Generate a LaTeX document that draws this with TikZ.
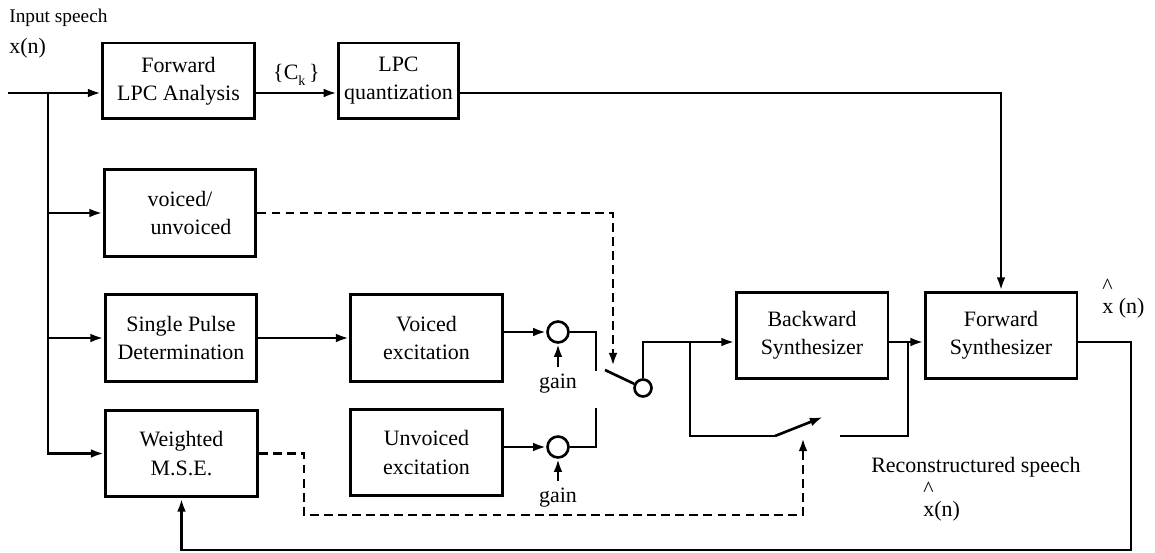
\documentclass[tikz,border=0pt]{standalone}
\usepackage{fontspec}
\setmainfont{Liberation Serif}
\usetikzlibrary{arrows.meta}
\tikzset{
  block/.style={draw, line width=1.7pt, minimum width=3.04cm, minimum height=1.74cm, align=center},
  adder/.style={draw, circle, line width=1.5pt, minimum size=0.42cm, inner sep=0pt},
  ctrl/.style={dash pattern=on 5pt off 3pt},
  lbl/.style={inner sep=0pt}
}
\begin{document}
\begin{tikzpicture}[x=0.02cm, y=-0.02cm, line width=1.5pt,
    >={Latex[length=7.5pt,width=5pt]}, font=\fontsize{12.5}{16}\selectfont]
	\useasboundingbox (0,0) rectangle (1155,553);
	% blocks
	\node (fwd) [block, minimum height=1.52cm] at (178.5,81) {Forward\\LPC Analysis};
	\node (quant) [block, minimum width=1.98cm, minimum height=1.52cm] at (398.5,81) {LPC\\quantization};
	\node (vuv) [block] at (180,213) {voiced/\\\quad unvoiced};
	\node (spd) [block] at (181,338) {Single Pulse\\Determination};
	\node (mse) [block] at (181.5,453.5) {Weighted\\M.S.E.};
	\node (vexc) [block] at (426.5,338) {Voiced\\excitation};
	\node (uexc) [block] at (426.5,452.5) {Unvoiced\\excitation};
	\node (bsyn) [block] at (812,335.5) {Backward\\Synthesizer};
	\node (fsyn) [block] at (1001,335.5) {Forward\\Synthesizer};
	\node (sumv) [adder] at (558,332) {};
	\node (sumu) [adder] at (558,447) {};
	\node (sw) [adder, minimum size=0.34cm] at (643,388) {};
	% labels
	\node (lin) [lbl, anchor=west, font=\fontsize{11}{13}\selectfont] at (8,18) {Input speech};
	\node (lx) [lbl, anchor=west] at (8,48) {x(n)};
	\node (gv) at (558,384) {gain};
	\node (gu) at (558,498) {gain};
	\node (xout) [lbl, anchor=north west, align=left] at (1101,278) {\textasciicircum\\[-5pt]x (n)};
	\node (lrec) [lbl, anchor=west] at (870,467) {Reconstructured speech};
	\node (xrec) [lbl, anchor=north west, align=left] at (922,481) {\textasciicircum\\[-5pt]x(n)};
	% points
	\coordinate (in) at (8,93);
	\coordinate (split) at (48,93);
	\coordinate (cup) at (596,371);
	\coordinate (clow) at (596,408);
	\coordinate (pole) at (605,370);
	\coordinate (vtip) at (613,366);
	\coordinate (bya) at (690,342);
	\coordinate (bpole) at (775,436);
	\coordinate (bblade) at (823,417);
	\coordinate (bcont) at (840,436);
	\coordinate (byb) at (908,342);
	\coordinate (mtip) at (803,438);
	\coordinate (mbend) at (304,515);
	\coordinate (fb) at (1131,550);
	% signal paths
	\draw[->] (in) -- (fwd.west |- in);
	\draw[->] (split) |- (vuv.west);
	\draw[->] (split) |- (spd.west);
	\draw[->] (split) |- (mse.west);
	\draw[->] (fwd.east |- in) to node [above] {\{C\raisebox{-0.6ex}{\footnotesize k}\,\}} (quant.west |- in);
	\draw[->] (quant.east |- in) -| (fsyn.north);
	\draw[->] (spd) -- (vexc);
	\draw[->] (vexc.east |- sumv) -- (sumv);
	\draw[->] (uexc.east |- sumu) -- (sumu);
	\draw[->] (gv) -- (sumv);
	\draw[->] (gu) -- (sumu);
	\draw (sumv) -| (cup);
	\draw (sumu) -| (clow);
	\draw (pole) -- (sw);
	\draw[->] (sw) |- ([yshift=-0.13cm]bsyn.west);
	\draw (bya) |- (bpole);
	\draw[->] (bpole) -- (bblade);
	\draw (bcont) -| (byb);
	\draw[->] ([yshift=-0.13cm]bsyn.east) -- ([yshift=-0.13cm]fsyn.west);
	\draw[->] ([yshift=-0.13cm]fsyn.east) -| (fb) -| (mse.south);
	% control
	\draw[ctrl, ->] (vuv.east) -| (vtip);
	\draw[ctrl, ->] (mse.east) -| (mbend) -| (mtip);
\end{tikzpicture}
\end{document}
